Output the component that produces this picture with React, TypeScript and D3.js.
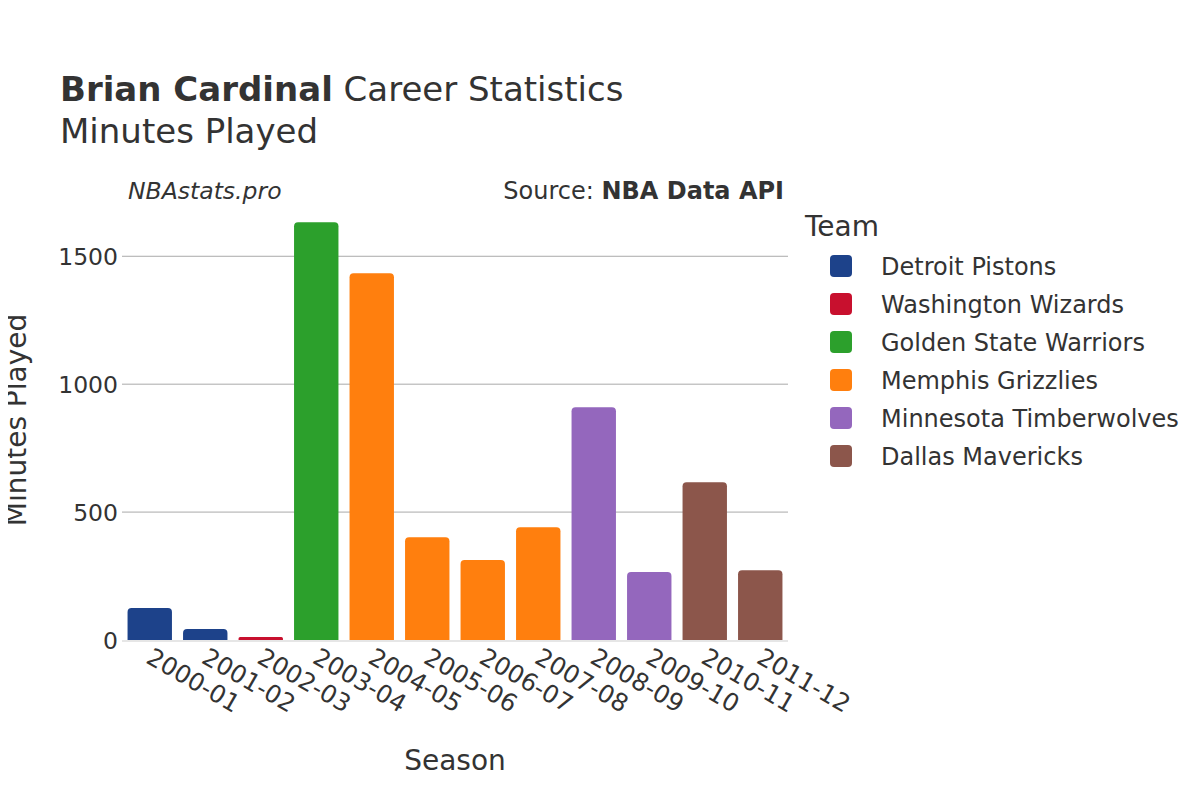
import React from 'react';
import * as d3 from 'd3';

const seasons = ['2000-01', '2001-02', '2002-03', '2003-04', '2004-05', '2005-06', '2006-07', '2007-08', '2008-09', '2009-10', '2010-11', '2011-12'];
const minutes = [125, 43, 12, 1633, 1434, 402, 313, 441, 910, 266, 617, 273];
const seasonTeams = ['Detroit Pistons', 'Detroit Pistons', 'Washington Wizards', 'Golden State Warriors', 'Memphis Grizzlies', 'Memphis Grizzlies', 'Memphis Grizzlies', 'Memphis Grizzlies', 'Minnesota Timberwolves', 'Minnesota Timberwolves', 'Dallas Mavericks', 'Dallas Mavericks'];
const teams = ['Detroit Pistons', 'Washington Wizards', 'Golden State Warriors', 'Memphis Grizzlies', 'Minnesota Timberwolves', 'Dallas Mavericks'];
const teamColors = ['#1d428a', '#c8102e', '#2ca02c', '#ff7f0e', '#9467bd', '#8c564b'];
const yTicks = [0, 500, 1000, 1500];

const W = 1200;
const H = 800;
const m = { left: 122, right: 788, top: 200, bottom: 640 };
const font = 'DejaVu Sans, sans-serif';
const ink = '#333';

export default function App() {
  const x = d3.scaleBand().domain(seasons).range([m.left, m.right]).paddingInner(0.2).paddingOuter(0.1);
  const y = d3.scaleLinear().domain([0, 1720]).range([m.bottom, m.top]);
  const color = d3.scaleOrdinal<string, string>().domain(teams).range(teamColors);

  // bar with rounded top corners
  const barPath = (x0: number, w: number, y0: number, y1: number) => {
    const r = Math.min(4, (y1 - y0) / 2, w / 2);
    const p = d3.path();
    p.moveTo(x0, y1);
    p.lineTo(x0, y0 + r);
    p.arcTo(x0, y0, x0 + r, y0, r);
    p.lineTo(x0 + w - r, y0);
    p.arcTo(x0 + w, y0, x0 + w, y0 + r, r);
    p.lineTo(x0 + w, y1);
    p.closePath();
    return p.toString();
  };

  return (
    <svg width={W} height={H} style={{ display: 'block', margin: -8, fontFamily: font }}>
      <rect width={W} height={H} fill="#fff" />
      <text x={60} y={101} fontSize={34} fill={ink}>
        <tspan fontWeight="bold">Brian Cardinal</tspan> Career Statistics
      </text>
      <text x={60} y={143} fontSize={34} fill={ink}>Minutes Played</text>
      <text x={128} y={199} fontSize={23.5} fontStyle="italic" fill={ink}>NBAstats.pro</text>
      <text x={784} y={199} fontSize={24} textAnchor="end" fill={ink}>
        Source: <tspan fontWeight="bold">NBA Data API</tspan>
      </text>

      {yTicks.filter(t => t > 0).map(t => (
        <line key={t} x1={m.left} x2={m.right} y1={y(t)} y2={y(t)} stroke="#aaa" strokeWidth={1} />
      ))}
      {yTicks.map(t => (
        <text key={t} x={118} y={y(t) + 8.5} fontSize={23.5} textAnchor="end" fill={ink}>{t}</text>
      ))}

      {seasons.map((s, i) => (
        <path key={s} d={barPath(x(s)!, x.bandwidth(), y(minutes[i]), y(0))} fill={color(seasonTeams[i])} />
      ))}
      <line x1={m.left} x2={m.right} y1={y(0) + 1} y2={y(0) + 1} stroke="#e6e6e6" strokeWidth={2} />

      {seasons.map(s => {
        const cx = x(s)! + x.bandwidth() / 2;
        return (
          <text key={s} transform={`translate(${cx - 5},${662}) rotate(30)`} fontSize={24.5} fill={ink}>{s}</text>
        );
      })}

      <text x={455} y={770} fontSize={28} textAnchor="middle" fill={ink}>Season</text>
      <text transform={`translate(26,420) rotate(-90)`} fontSize={28} textAnchor="middle" fill={ink}>Minutes Played</text>

      <text x={805} y={236} fontSize={28} fill={ink}>Team</text>
      {teams.map((t, i) => (
        <g key={t} transform={`translate(0,${266 + i * 38})`}>
          <rect x={830} y={-11} width={22} height={22} rx={4} fill={color(t)} />
          <text x={881} y={8.5} fontSize={24} fill={ink}>{t}</text>
        </g>
      ))}
    </svg>
  );
}
